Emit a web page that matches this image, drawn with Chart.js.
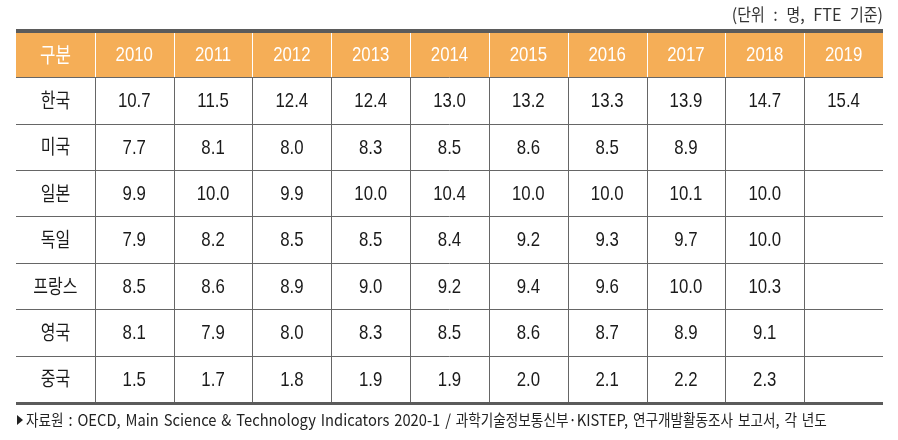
<!DOCTYPE html>
<html>
<head>
<meta charset="utf-8">
<script src="https://cdn.jsdelivr.net/npm/chart.js@4.4.1/dist/chart.umd.min.js"></script>
<style>
  html, body { margin: 0; padding: 0; background: #fff; }
  #wrap { width: 898px; height: 440px; position: relative; }
</style>
</head>
<body>
<div id="wrap"><canvas id="tabel"></canvas></div>
<script>
const unitLabel = "(단위 : 명, FTE 기준)";
const sourceNote = "자료원 : OECD, Main Science & Technology Indicators 2020-1 / 과학기술정보통신부·KISTEP, 연구개발활동조사 보고서, 각 년도";
const headLabel = "구분";
const years = ["2010", "2011", "2012", "2013", "2014", "2015", "2016", "2017", "2018", "2019"];
const countries = ["한국", "미국", "일본", "독일", "프랑스", "영국", "중국"];

const korea   = [10.7, 11.5, 12.4, 12.4, 13.0, 13.2, 13.3, 13.9, 14.7, 15.4];
const usa     = [7.7, 8.1, 8.0, 8.3, 8.5, 8.6, 8.5, 8.9, null, null];
const japan   = [9.9, 10.0, 9.9, 10.0, 10.4, 10.0, 10.0, 10.1, 10.0, null];
const germany = [7.9, 8.2, 8.5, 8.5, 8.4, 9.2, 9.3, 9.7, 10.0, null];
const france  = [8.5, 8.6, 8.9, 9.0, 9.2, 9.4, 9.6, 10.0, 10.3, null];
const uk      = [8.1, 7.9, 8.0, 8.3, 8.5, 8.6, 8.7, 8.9, 9.1, null];
const china   = [1.5, 1.7, 1.8, 1.9, 1.9, 2.0, 2.1, 2.2, 2.3, null];

const rows = [korea, usa, japan, germany, france, uk, china];

const ORANGE = "#F5AE57";
const LINE = "#666666";
const THICK = "#5b5b5b";
const KFONT = '"Noto Sans CJK KR", "Noto Sans", sans-serif';
const NFONT = '"Liberation Sans", Arial, sans-serif';

// cell center points, one dataset per row (header + countries)
const datasets = [];
datasets.push({
  label: "header",
  data: [{ x: 0.5, y: 0.5, t: headLabel }].concat(years.map((y, j) => ({ x: j + 1.5, y: 0.5, t: y })))
});
rows.forEach((vals, i) => {
  const pts = [{ x: 0.5, y: i + 1.5, t: countries[i] }];
  vals.forEach((v, j) => {
    if (v !== null) pts.push({ x: j + 1.5, y: i + 1.5, t: v.toFixed(1) });
  });
  datasets.push({ label: countries[i], data: pts });
});

// draw text squeezed horizontally (hangul and latin runs get their own squeeze, spaces get extra room)
function drawRuns(ctx, text, x, y, align, kScale, lScale, extraSpace) {
  extraSpace = extraSpace || 0;
  const runs = text.match(/ |[\uAC00-\uD7A3]+|[^\uAC00-\uD7A3 ]+/g) || [];
  const parts = runs.map(r => {
    const isK = /[\uAC00-\uD7A3]/.test(r);
    const s = isK ? kScale : lScale;
    let w = ctx.measureText(r).width * s;
    if (r === " ") w += extraSpace;
    return { r, s, w };
  });
  const total = parts.reduce((a, p) => a + p.w, 0);
  let cx = align === "center" ? x - total / 2 : align === "right" ? x - total : x;
  ctx.textAlign = "left";
  parts.forEach(p => {
    if (p.r !== " ") {
      ctx.save();
      ctx.translate(cx, y);
      ctx.scale(p.s, 1);
      ctx.fillText(p.r, 0, 0);
      ctx.restore();
    }
    cx += p.w;
  });
}

const tablePlugin = {
  id: "tablePlugin",
  beforeDatasetsDraw(chart) {
    const ctx = chart.ctx;
    const xs = chart.scales.x;
    const ys = chart.scales.y;
    const left = xs.getPixelForValue(0);
    const right = xs.getPixelForValue(years.length + 1);
    const top = ys.getPixelForValue(ys.min);
    const headBottom = ys.getPixelForValue(1);
    const bottom = ys.getPixelForValue(rows.length + 1);

    ctx.save();
    // header fill
    ctx.fillStyle = ORANGE;
    ctx.fillRect(left, top, right - left, headBottom - top);

    // horizontal lines
    ctx.strokeStyle = LINE;
    ctx.lineWidth = 1;
    for (let r = 1; r <= rows.length; r++) {
      const y = Math.round(ys.getPixelForValue(r)) + 0.5;
      ctx.beginPath();
      ctx.moveTo(left, y);
      ctx.lineTo(right, y);
      ctx.stroke();
    }
    // vertical lines
    for (let c = 1; c <= years.length; c++) {
      const x = Math.round(xs.getPixelForValue(c)) + 0.5;
      ctx.strokeStyle = "#ffffff";
      ctx.beginPath();
      ctx.moveTo(x, top);
      ctx.lineTo(x, headBottom);
      ctx.stroke();
      ctx.strokeStyle = LINE;
      ctx.beginPath();
      ctx.moveTo(x, headBottom);
      ctx.lineTo(x, bottom);
      ctx.stroke();
    }
    // thick top / bottom rules
    ctx.fillStyle = THICK;
    ctx.fillRect(left, top - 4, right - left, 4);
    ctx.fillRect(left, bottom, right - left, 3);

    // unit label
    ctx.fillStyle = "#333";
    ctx.font = "17px " + KFONT;
    ctx.textBaseline = "middle";
    drawRuns(ctx, unitLabel, right, 15, "right", 0.88, 0.95, 5);

    // source note
    const ny = bottom + 18;
    ctx.beginPath();
    ctx.moveTo(left + 1, ny - 5);
    ctx.lineTo(left + 7, ny);
    ctx.lineTo(left + 1, ny + 5);
    ctx.closePath();
    ctx.fillStyle = "#222";
    ctx.fill();
    ctx.font = "16px " + KFONT;
    drawRuns(ctx, sourceNote, left + 10, ny, "left", 0.85, 0.92, 1.6);
    ctx.restore();
  },
  afterDatasetsDraw(chart) {
    const ctx = chart.ctx;
    ctx.save();
    ctx.textBaseline = "middle";
    chart.data.datasets.forEach((ds, i) => {
      const meta = chart.getDatasetMeta(i);
      meta.data.forEach((el, j) => {
        const t = ds.data[j].t;
        const isKor = ds.data[j].x < 1;
        ctx.fillStyle = i === 0 ? "#ffffff" : "#1a1a1a";
        if (isKor) {
          ctx.font = (i === 0 ? "21px " : "20px ") + KFONT;
          drawRuns(ctx, t, el.x, el.y, "center", 0.8, 0.8);
        } else {
          ctx.font = "21px " + NFONT;
          drawRuns(ctx, t, el.x, el.y + 1, "center", 0.8, 0.8);
        }
      });
    });
    ctx.restore();
  }
};

new Chart(document.getElementById("tabel"), {
  type: "scatter",
  data: { datasets },
  options: {
    responsive: true,
    maintainAspectRatio: false,
    animation: false,
    layout: { padding: { left: 16, right: 15, top: 33, bottom: 38 } },
    elements: { point: { radius: 0, hoverRadius: 0 } },
    plugins: { legend: { display: false }, tooltip: { enabled: false } },
    scales: {
      x: { type: "linear", min: 0, max: years.length + 1, display: false },
      y: { type: "linear", min: 0.05, max: rows.length + 1, reverse: true, display: false }
    }
  },
  plugins: [tablePlugin]
});
</script>
</body>
</html>
